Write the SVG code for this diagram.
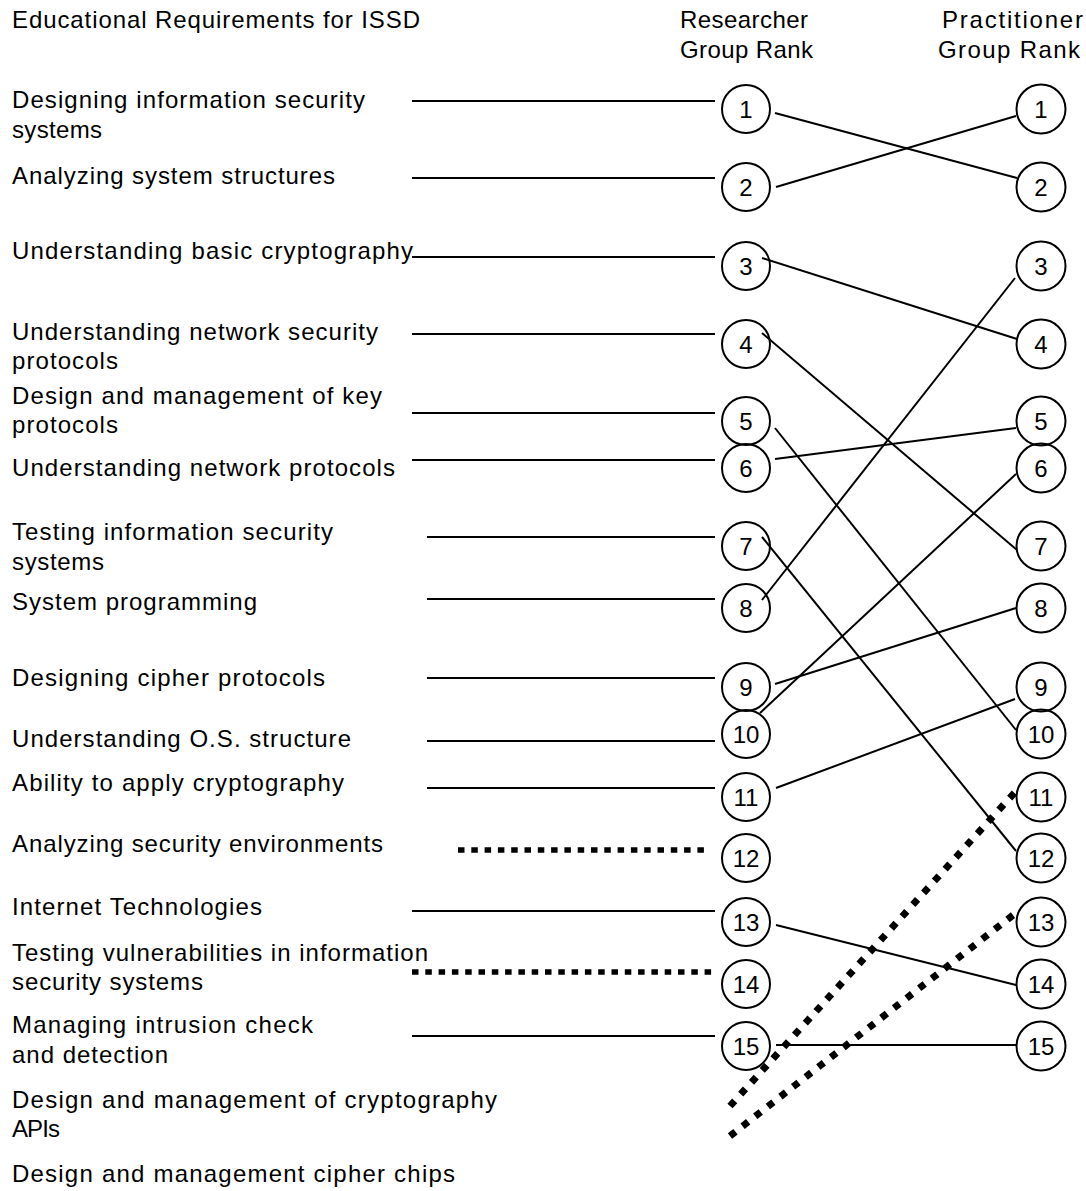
<svg xmlns="http://www.w3.org/2000/svg" width="1086" height="1191" viewBox="0 0 1086 1191">
<style>
text{font-family:"Liberation Sans",Arial,sans-serif;font-size:24px;fill:#000}
.num{text-anchor:middle;font-size:24px}
.node circle{fill:none;stroke:#000;stroke-width:2}
.ln{stroke:#000;stroke-width:2;fill:none}
.dot{stroke:#000;stroke-width:5.5;stroke-dasharray:6.5 6.8;fill:none}
.dotd{stroke:#000;stroke-width:7;stroke-dasharray:7 9;fill:none}
</style>
<rect width="1086" height="1191" fill="#fff"/>
<g id="headers">
<text x="12" y="28" textLength="408" lengthAdjust="spacing">Educational Requirements for ISSD</text>
<text x="680" y="28" textLength="128" lengthAdjust="spacing">Researcher</text>
<text x="680" y="58" textLength="133" lengthAdjust="spacing">Group Rank</text>
<text x="942" y="28" textLength="141" lengthAdjust="spacing">Practitioner</text>
<text x="938" y="58" textLength="142" lengthAdjust="spacing">Group Rank</text>
</g>
<g id="labels">
<text x="12" y="108" textLength="353" lengthAdjust="spacing">Designing information security</text>
<text x="12" y="138" textLength="90" lengthAdjust="spacing">systems</text>
<text x="12" y="184" textLength="323" lengthAdjust="spacing">Analyzing system structures</text>
<text x="12" y="259" textLength="401" lengthAdjust="spacing">Understanding basic cryptography</text>
<text x="12" y="340" textLength="366" lengthAdjust="spacing">Understanding network security</text>
<text x="12" y="369" textLength="106" lengthAdjust="spacing">protocols</text>
<text x="12" y="404" textLength="370" lengthAdjust="spacing">Design and management of key</text>
<text x="12" y="433" textLength="106" lengthAdjust="spacing">protocols</text>
<text x="12" y="476" textLength="383" lengthAdjust="spacing">Understanding network protocols</text>
<text x="12" y="540" textLength="321" lengthAdjust="spacing">Testing information security</text>
<text x="12" y="570" textLength="92" lengthAdjust="spacing">systems</text>
<text x="12" y="610" textLength="245" lengthAdjust="spacing">System programming</text>
<text x="12" y="686" textLength="313" lengthAdjust="spacing">Designing cipher protocols</text>
<text x="12" y="747" textLength="339" lengthAdjust="spacing">Understanding O.S. structure</text>
<text x="12" y="791" textLength="332" lengthAdjust="spacing">Ability to apply cryptography</text>
<text x="12" y="852" textLength="371" lengthAdjust="spacing">Analyzing security environments</text>
<text x="12" y="915" textLength="250" lengthAdjust="spacing">Internet Technologies</text>
<text x="12" y="961" textLength="416" lengthAdjust="spacing">Testing vulnerabilities in information</text>
<text x="12" y="990" textLength="191" lengthAdjust="spacing">security systems</text>
<text x="12" y="1033" textLength="301" lengthAdjust="spacing">Managing intrusion check</text>
<text x="12" y="1063" textLength="156" lengthAdjust="spacing">and detection</text>
<text x="12" y="1108" textLength="485" lengthAdjust="spacing">Design and management of cryptography</text>
<text x="12" y="1137" textLength="48" lengthAdjust="spacing">APIs</text>
<text x="12" y="1182" textLength="443" lengthAdjust="spacing">Design and management cipher chips</text>
</g>
<g id="researcher-ranks">
<g id="r1" class="node"><circle cx="746" cy="109" r="24"/><text class="num" x="746" y="118">1</text></g>
<g id="r2" class="node"><circle cx="746" cy="187" r="24"/><text class="num" x="746" y="196">2</text></g>
<g id="r3" class="node"><circle cx="746" cy="266" r="24"/><text class="num" x="746" y="275">3</text></g>
<g id="r4" class="node"><circle cx="746" cy="344" r="24"/><text class="num" x="746" y="353">4</text></g>
<g id="r5" class="node"><circle cx="746" cy="421" r="24"/><text class="num" x="746" y="430">5</text></g>
<g id="r6" class="node"><circle cx="746" cy="468" r="24"/><text class="num" x="746" y="477">6</text></g>
<g id="r7" class="node"><circle cx="746" cy="546" r="24"/><text class="num" x="746" y="555">7</text></g>
<g id="r8" class="node"><circle cx="746" cy="608" r="24"/><text class="num" x="746" y="617">8</text></g>
<g id="r9" class="node"><circle cx="746" cy="687" r="24"/><text class="num" x="746" y="696">9</text></g>
<g id="r10" class="node"><circle cx="746" cy="734" r="24"/><text class="num" x="746" y="743">10</text></g>
<g id="r11" class="node"><circle cx="746" cy="797" r="24"/><text class="num" x="746" y="806">11</text></g>
<g id="r12" class="node"><circle cx="746" cy="858" r="24"/><text class="num" x="746" y="867">12</text></g>
<g id="r13" class="node"><circle cx="746" cy="922" r="24"/><text class="num" x="746" y="931">13</text></g>
<g id="r14" class="node"><circle cx="746" cy="984" r="24"/><text class="num" x="746" y="993">14</text></g>
<g id="r15" class="node"><circle cx="746" cy="1046" r="24"/><text class="num" x="746" y="1055">15</text></g>
</g>
<g id="practitioner-ranks">
<g id="p1" class="node"><circle cx="1041" cy="109" r="24.5"/><text class="num" x="1041" y="118">1</text></g>
<g id="p2" class="node"><circle cx="1041" cy="187" r="24.5"/><text class="num" x="1041" y="196">2</text></g>
<g id="p3" class="node"><circle cx="1041" cy="266" r="24.5"/><text class="num" x="1041" y="275">3</text></g>
<g id="p4" class="node"><circle cx="1041" cy="344" r="24.5"/><text class="num" x="1041" y="353">4</text></g>
<g id="p5" class="node"><circle cx="1041" cy="421" r="24.5"/><text class="num" x="1041" y="430">5</text></g>
<g id="p6" class="node"><circle cx="1041" cy="468" r="24.5"/><text class="num" x="1041" y="477">6</text></g>
<g id="p7" class="node"><circle cx="1041" cy="546" r="24.5"/><text class="num" x="1041" y="555">7</text></g>
<g id="p8" class="node"><circle cx="1041" cy="608" r="24.5"/><text class="num" x="1041" y="617">8</text></g>
<g id="p9" class="node"><circle cx="1041" cy="687" r="24.5"/><text class="num" x="1041" y="696">9</text></g>
<g id="p10" class="node"><circle cx="1041" cy="734" r="24.5"/><text class="num" x="1041" y="743">10</text></g>
<g id="p11" class="node"><circle cx="1041" cy="797" r="24.5"/><text class="num" x="1041" y="806">11</text></g>
<g id="p12" class="node"><circle cx="1041" cy="858" r="24.5"/><text class="num" x="1041" y="867">12</text></g>
<g id="p13" class="node"><circle cx="1041" cy="922" r="24.5"/><text class="num" x="1041" y="931">13</text></g>
<g id="p14" class="node"><circle cx="1041" cy="984" r="24.5"/><text class="num" x="1041" y="993">14</text></g>
<g id="p15" class="node"><circle cx="1041" cy="1046" r="24.5"/><text class="num" x="1041" y="1055">15</text></g>
</g>
<g id="connectors">
<line class="ln" x1="412" y1="101" x2="715" y2="101"/>
<line class="ln" x1="412" y1="178" x2="715" y2="178"/>
<line class="ln" x1="412" y1="257" x2="715" y2="257"/>
<line class="ln" x1="412" y1="334" x2="715" y2="334"/>
<line class="ln" x1="412" y1="413" x2="715" y2="413"/>
<line class="ln" x1="412" y1="460" x2="715" y2="460"/>
<line class="ln" x1="427" y1="537" x2="715" y2="537"/>
<line class="ln" x1="427" y1="599" x2="715" y2="599"/>
<line class="ln" x1="427" y1="678" x2="715" y2="678"/>
<line class="ln" x1="427" y1="741" x2="715" y2="741"/>
<line class="ln" x1="427" y1="788" x2="715" y2="788"/>
<line class="dot" x1="458" y1="850" x2="706" y2="850"/>
<line class="ln" x1="412" y1="911" x2="715" y2="911"/>
<line class="dot" x1="412" y1="972" x2="716" y2="972"/>
<line class="ln" x1="412" y1="1036" x2="715" y2="1036"/>
<line class="ln" x1="775" y1="113" x2="1017" y2="178"/>
<line class="ln" x1="776" y1="187" x2="1016" y2="116"/>
<line class="ln" x1="762" y1="258" x2="1017" y2="339"/>
<line class="ln" x1="1015" y1="278" x2="762" y2="600"/>
<line class="ln" x1="762" y1="333" x2="1017" y2="550"/>
<line class="ln" x1="775" y1="428" x2="1016" y2="730"/>
<line class="ln" x1="775" y1="459" x2="1016" y2="428"/>
<line class="ln" x1="1016" y1="474" x2="760" y2="713"/>
<line class="ln" x1="762" y1="537" x2="1016" y2="851"/>
<line class="ln" x1="775" y1="684" x2="1016" y2="608"/>
<line class="ln" x1="776" y1="788" x2="1015" y2="699"/>
<line class="ln" x1="776" y1="925" x2="1016" y2="985"/>
<line class="ln" x1="776" y1="1045" x2="1017" y2="1045"/>
<line class="dotd" x1="730" y1="1106" x2="1017" y2="790"/>
<line class="dotd" x1="730" y1="1136" x2="1017" y2="912"/>
</g>
</svg>
